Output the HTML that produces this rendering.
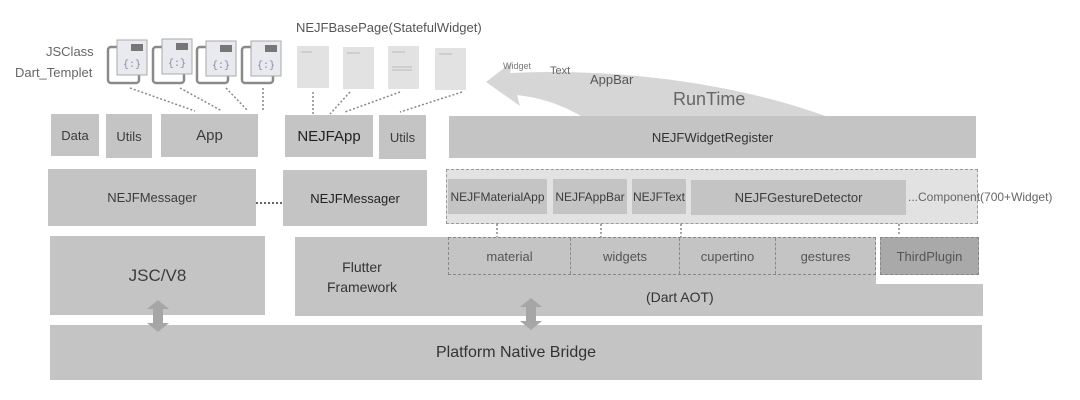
<!DOCTYPE html>
<html><head><meta charset="utf-8"><style>
body{margin:0;width:1080px;height:400px;background:#fff;position:relative;overflow:hidden;font-family:"Liberation Sans",sans-serif;color:#444}
.b{position:absolute;background:#c4c4c4;display:flex;align-items:center;justify-content:center;text-align:center;font-size:13px;color:#3c3c3c}
.t{position:absolute;white-space:nowrap}
</style></head><body>
<svg width="1080" height="400" style="position:absolute;left:0;top:0">
<path d="M486,82 L512,62 L510,73 C650,66 800,95 885,143 L615,143 C590,118 560,100 517,95 L520,106 Z" fill="#d6d6d6"/>
<g stroke="#888" stroke-width="1.5" stroke-dasharray="2,2" fill="none">
<line x1="130" y1="88" x2="195" y2="111"/><line x1="180" y1="88" x2="222" y2="111"/>
<line x1="226" y1="88" x2="248" y2="111"/><line x1="263" y1="88" x2="263" y2="111"/>
<line x1="313" y1="92" x2="313" y2="114"/><line x1="350" y1="92" x2="330" y2="114"/>
<line x1="400" y1="92" x2="345" y2="112"/><line x1="462" y1="92" x2="400" y2="112"/>
<line x1="236" y1="203" x2="300" y2="203" stroke="#666" stroke-width="2"/>
<line x1="497" y1="216" x2="497" y2="243"/><line x1="601" y1="216" x2="601" y2="243"/>
<line x1="681" y1="216" x2="681" y2="243"/><line x1="899" y1="216" x2="899" y2="243"/>
</g>
<g fill="#fff" stroke="#8a8a8a" stroke-width="2.5">
<rect x="108" y="47" width="31" height="36" rx="3"/><rect x="153" y="47" width="31" height="36" rx="3"/>
<rect x="197" y="47" width="31" height="36" rx="3"/><rect x="242" y="47" width="31" height="36" rx="3"/>
</g>
<g fill="#e8eaf0" stroke="#aaa" stroke-width="1">
<rect x="117" y="40" width="30" height="35"/><rect x="162" y="39" width="30" height="35"/>
<rect x="206" y="41" width="30" height="35"/><rect x="251" y="41" width="30" height="35"/>
</g>
<g fill="#777"><rect x="131" y="44" width="12" height="7"/><rect x="176" y="43" width="12" height="7"/><rect x="220" y="45" width="12" height="7"/><rect x="265" y="45" width="12" height="7"/></g>
<g font-family="Liberation Mono" font-size="10" fill="#889">
<text x="123" y="67">{:}</text><text x="168" y="66">{:}</text><text x="212" y="68">{:}</text><text x="257" y="68">{:}</text></g>
<g fill="#e2e2e2"><rect x="297" y="46" width="32" height="42"/><rect x="343" y="47" width="31" height="42"/><rect x="388" y="46" width="31" height="43"/><rect x="435" y="48" width="31" height="42"/></g>
<g stroke="#bbb"><line x1="301" y1="52" x2="312" y2="52"/><line x1="347" y1="53" x2="360" y2="53"/><line x1="392" y1="52" x2="405" y2="52"/><line x1="392" y1="67" x2="412" y2="67"/><line x1="392" y1="70" x2="412" y2="70"/><line x1="439" y1="54" x2="452" y2="54"/></g>
</svg>
<div class="t" style="left:46px;top:44px;font-size:13px;color:#666">JSClass</div>
<div class="t" style="left:15px;top:65px;font-size:13px;color:#666">Dart_Templet</div>
<div class="t" style="left:296px;top:20px;font-size:13px;color:#555">NEJFBasePage(StatefulWidget)</div>
<div class="t" style="left:503px;top:61px;font-size:9px;color:#777">Widget</div>
<div class="t" style="left:550px;top:65px;font-size:11px;color:#666">Text</div>
<div class="t" style="left:590px;top:72px;font-size:13px;color:#555">AppBar</div>
<div class="t" style="left:673px;top:89px;font-size:18px;color:#666">RunTime</div>

<div class="b" style="left:51px;top:114px;width:48px;height:42px">Data</div>
<div class="b" style="left:106px;top:114px;width:46px;height:44px">Utils</div>
<div class="b" style="left:161px;top:114px;width:97px;height:43px;font-size:15px">App</div>
<div class="b" style="left:285px;top:115px;width:88px;height:42px;font-size:15px;color:#222">NEJFApp</div>
<div class="b" style="left:379px;top:115px;width:47px;height:44px">Utils</div>
<div class="b" style="left:449px;top:116px;width:527px;height:42px;font-size:13px;color:#333">NEJFWidgetRegister</div>

<div class="b" style="left:48px;top:169px;width:208px;height:57px;font-size:13px">NEJFMessager</div>
<div class="b" style="left:283px;top:170px;width:144px;height:56px;font-size:13px;color:#222">NEJFMessager</div>
<div style="position:absolute;left:446px;top:169px;width:532px;height:55px;background:#e2e2e2;border:1px dashed #999;box-sizing:border-box"></div>
<div class="b" style="left:448px;top:179px;width:99px;height:35px;font-size:12px">NEJFMaterialApp</div>
<div class="b" style="left:553px;top:179px;width:74px;height:35px;font-size:12px">NEJFAppBar</div>
<div class="b" style="left:632px;top:179px;width:54px;height:35px;font-size:12px">NEJFText</div>
<div class="b" style="left:691px;top:180px;width:215px;height:35px;font-size:13px">NEJFGestureDetector</div>
<div class="t" style="left:908px;top:190px;font-size:12px;color:#666">...Component(700+Widget)</div>

<div class="b" style="left:50px;top:236px;width:215px;height:79px;font-size:17px">JSC/V8</div>
<div class="b" style="left:295px;top:237px;width:688px;height:79px"></div>
<div class="t" style="left:327px;top:257px;font-size:14px;text-align:center;line-height:20px;color:#333">Flutter<br>Framework</div>
<div class="t" style="left:646px;top:289px;font-size:14px;color:#333">(Dart AOT)</div>
<div style="position:absolute;left:448px;top:237px;width:428px;height:38px;border:1px dashed #888;box-sizing:border-box;display:flex;font-size:13px;color:#555">
<div style="width:121px;display:flex;align-items:center;justify-content:center;border-right:1px dashed #888">material</div>
<div style="width:108px;display:flex;align-items:center;justify-content:center;border-right:1px dashed #888">widgets</div>
<div style="width:95px;display:flex;align-items:center;justify-content:center;border-right:1px dashed #888">cupertino</div>
<div style="flex:1;display:flex;align-items:center;justify-content:center">gestures</div></div>
<div style="position:absolute;left:876px;top:236px;width:108px;height:48px;background:#fff"></div>
<div class="b" style="left:880px;top:237px;width:99px;height:38px;background:#a9a9a9;border:1px dashed #888;box-sizing:border-box;color:#555">ThirdPlugin</div>

<div class="b" style="left:50px;top:325px;width:932px;height:55px;font-size:16px;color:#333">Platform Native Bridge</div>
<svg width="1080" height="400" style="position:absolute;left:0;top:0">
<g fill="#a6a6a6">
<path d="M158,300 L169,309 L163,309 L163,323 L169,323 L158,332 L147,323 L153,323 L153,309 L147,309Z"/>
<path d="M531,298 L542,307 L536,307 L536,321 L542,321 L531,330 L520,321 L526,321 L526,307 L520,307Z"/>
</g></svg>
</body></html>
